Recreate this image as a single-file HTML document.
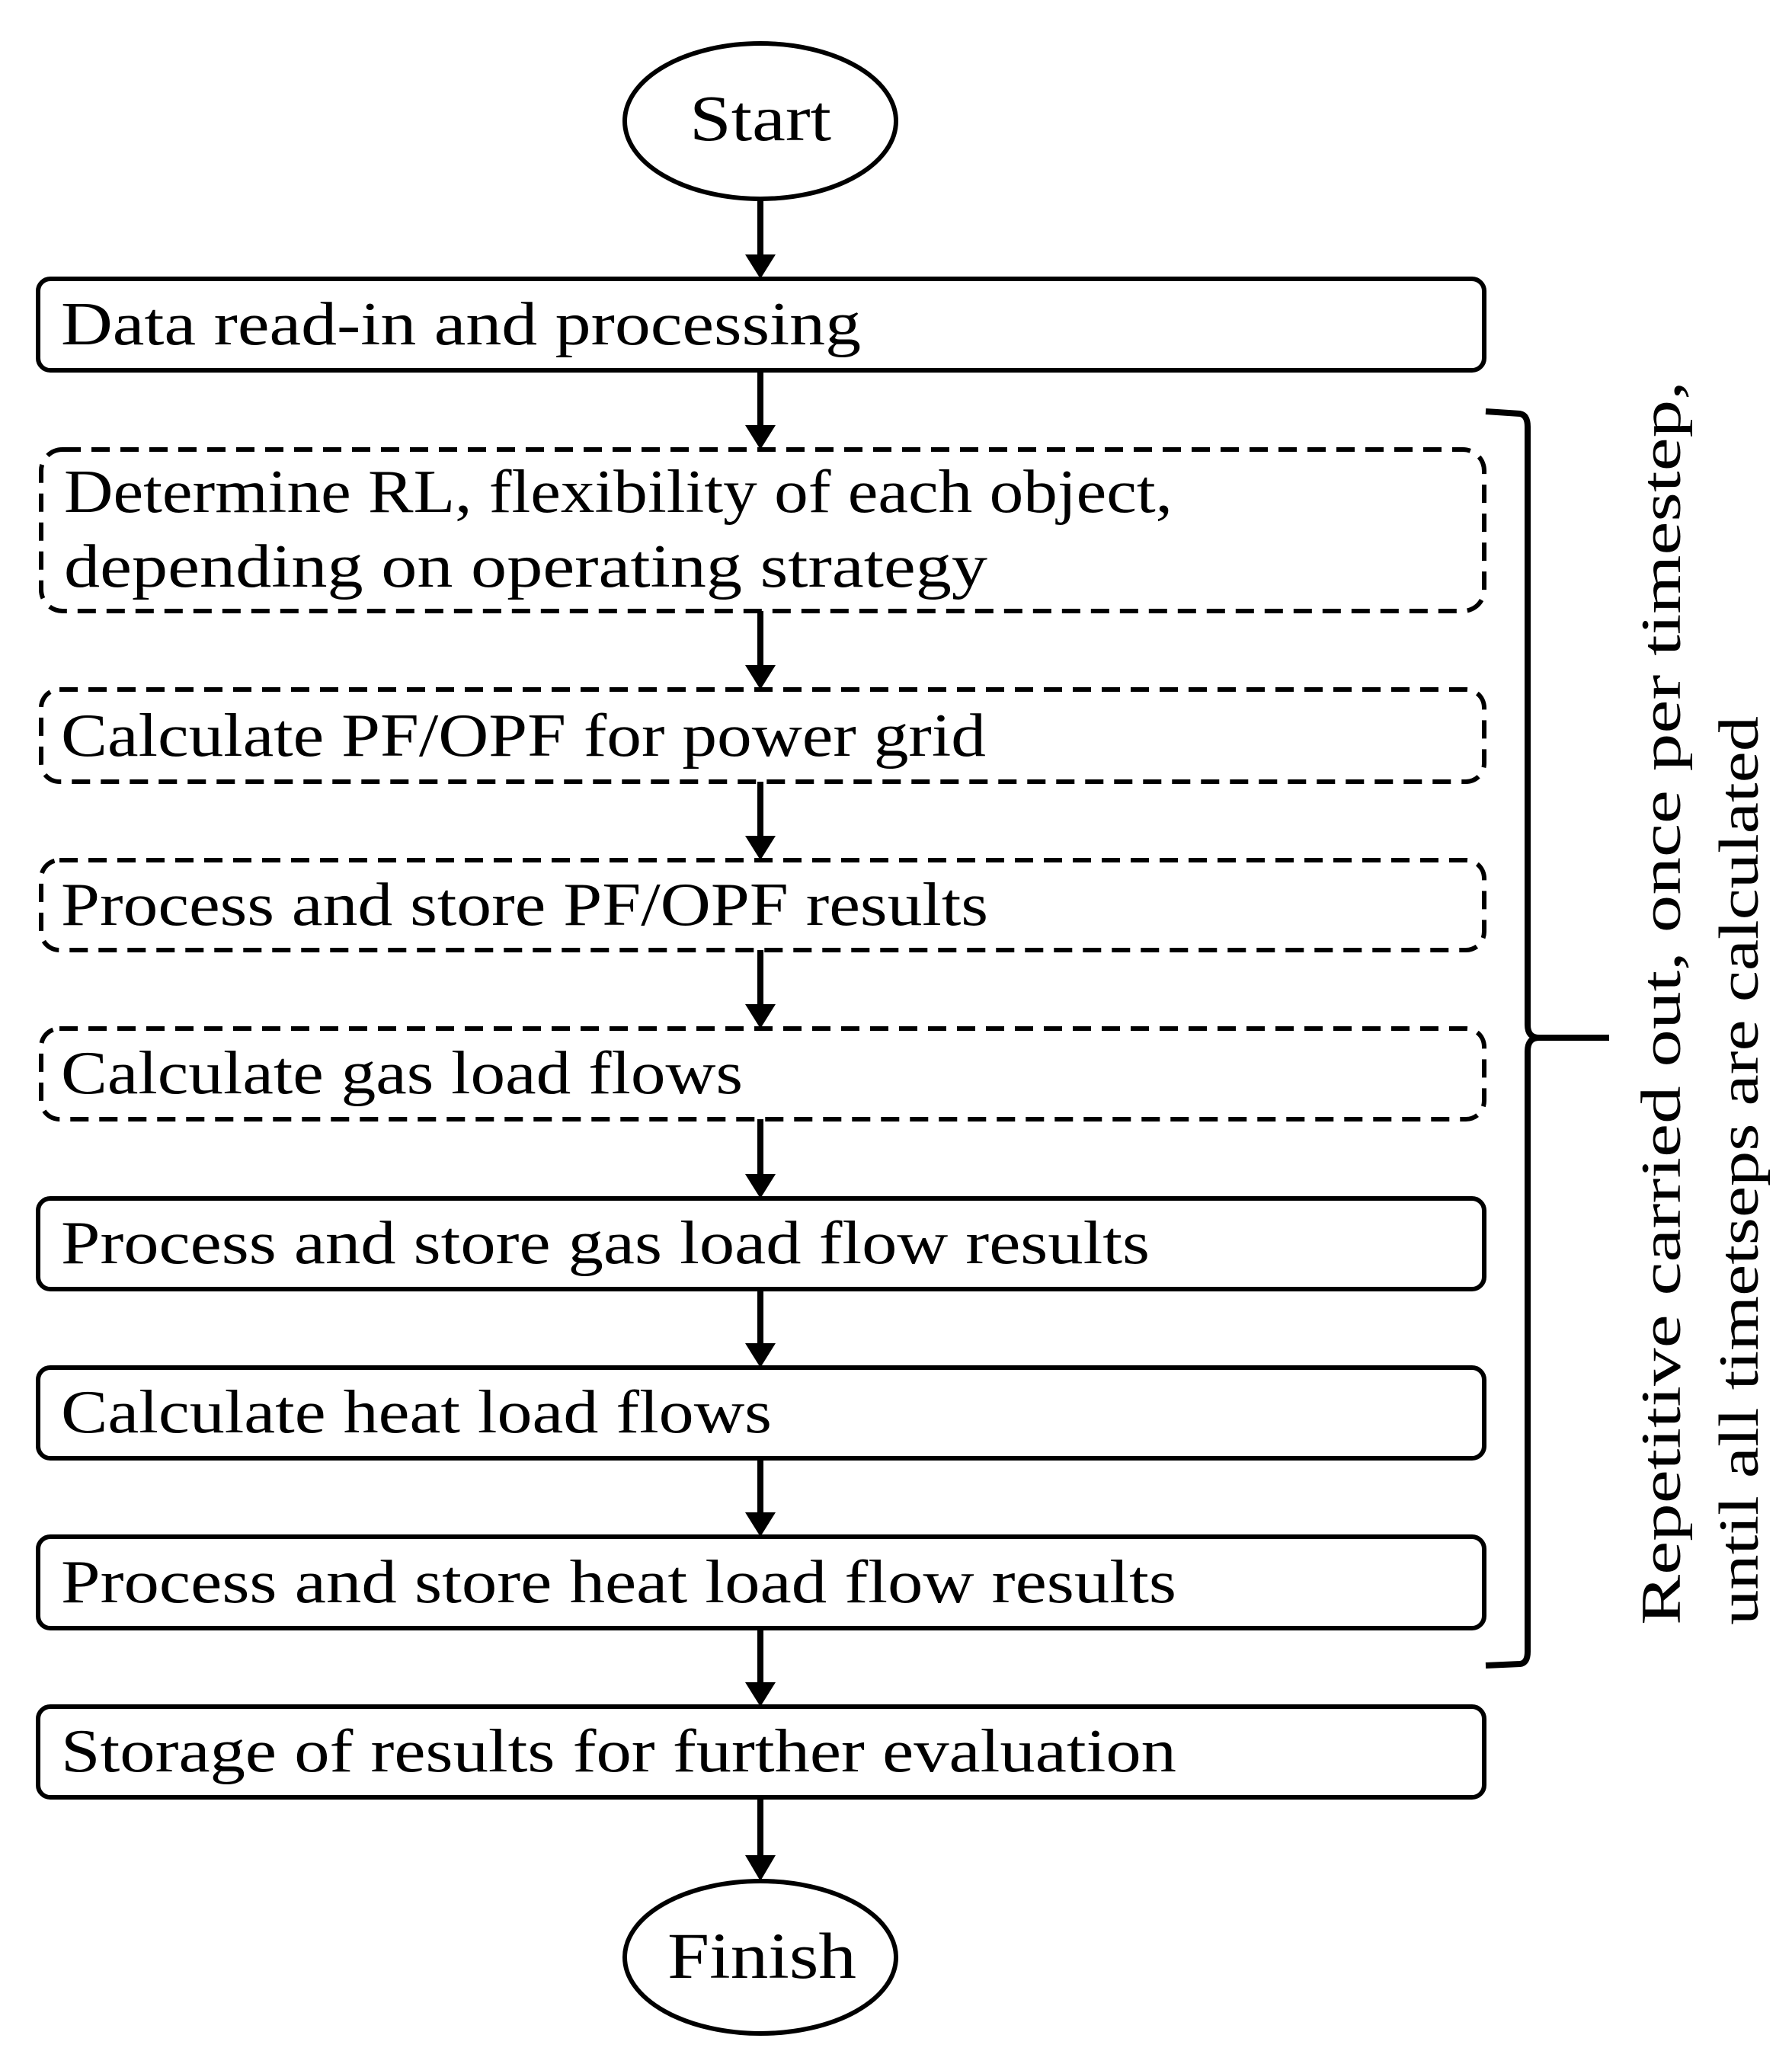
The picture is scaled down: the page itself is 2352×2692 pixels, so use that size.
<!DOCTYPE html>
<html><head><meta charset="utf-8"><style>
html,body{margin:0;padding:0;background:#fff;}
svg{display:block}
text{font-family:"Liberation Serif",serif;fill:#000}
</style></head><body>
<svg width="2352" height="2692" viewBox="0 0 2352 2692" xmlns="http://www.w3.org/2000/svg">
<g fill="none" stroke="#000" stroke-width="6">
<ellipse cx="998" cy="159" rx="178" ry="102"/>
<ellipse cx="998" cy="2569" rx="178" ry="100"/>
<rect x="50" y="366" width="1898" height="120" rx="16"/>
<rect x="50" y="2017" width="1898" height="120" rx="16"/>
<rect x="50" y="2240" width="1898" height="119" rx="16"/>
<rect x="50" y="1573" width="1898" height="119" rx="16"/>
<rect x="50" y="1795" width="1898" height="119" rx="16"/>
<g stroke-dasharray="24,14">
<rect x="54" y="590" width="1894" height="212" rx="28"/>
<rect x="54" y="905" width="1894" height="121" rx="24"/>
<rect x="54" y="1129" width="1894" height="118" rx="24"/>
<rect x="54" y="1350" width="1894" height="119" rx="24"/>
</g>
<g stroke-width="8">
<line x1="998" y1="261" x2="998" y2="336"/>
<line x1="998" y1="486" x2="998" y2="560"/>
<line x1="998" y1="802" x2="998" y2="875"/>
<line x1="998" y1="1026" x2="998" y2="1099"/>
<line x1="998" y1="1247" x2="998" y2="1320"/>
<line x1="998" y1="1469" x2="998" y2="1543"/>
<line x1="998" y1="1692" x2="998" y2="1765"/>
<line x1="998" y1="1914" x2="998" y2="1987"/>
<line x1="998" y1="2137" x2="998" y2="2210"/>
<line x1="998" y1="2359" x2="998" y2="2437"/>
</g>
<path d="M1950,540 L1995,543 Q2005,545 2005,560 L2005,1345 Q2005,1362 2020,1362 L2112,1362 M2020,1362 Q2005,1362 2005,1380 L2005,2168 Q2005,2183 1995,2184 L1950,2186" stroke-width="8"/>
</g>
<g fill="#000">
<polygon points="978,334 1018,334 998,366"/>
<polygon points="978,558 1018,558 998,590"/>
<polygon points="978,873 1018,873 998,905"/>
<polygon points="978,1097 1018,1097 998,1129"/>
<polygon points="978,1318 1018,1318 998,1350"/>
<polygon points="978,1541 1018,1541 998,1573"/>
<polygon points="978,1763 1018,1763 998,1795"/>
<polygon points="978,1985 1018,1985 998,2017"/>
<polygon points="978,2208 1018,2208 998,2240"/>
<polygon points="978,2435 1018,2435 998,2469"/>
</g>
<g font-size="80" lengthAdjust="spacingAndGlyphs">
<text x="905" y="184" font-size="86" textLength="186" lengthAdjust="spacingAndGlyphs">Start</text>
<text x="876" y="2596" font-size="86" textLength="248" lengthAdjust="spacingAndGlyphs">Finish</text>
<text x="80" y="452" textLength="1050" lengthAdjust="spacingAndGlyphs">Data read-in and processing</text>
<text x="84" y="672" textLength="1455" lengthAdjust="spacingAndGlyphs">Determine RL, flexibility of each object,</text>
<text x="84" y="770" textLength="1212" lengthAdjust="spacingAndGlyphs">depending on operating strategy</text>
<text x="80" y="992" textLength="1214" lengthAdjust="spacingAndGlyphs">Calculate PF/OPF for power grid</text>
<text x="80" y="1214" textLength="1217" lengthAdjust="spacingAndGlyphs">Process and store PF/OPF results</text>
<text x="80" y="1435" textLength="895" lengthAdjust="spacingAndGlyphs">Calculate gas load flows</text>
<text x="80" y="1658" textLength="1429" lengthAdjust="spacingAndGlyphs">Process and store gas load flow results</text>
<text x="80" y="1880" textLength="933" lengthAdjust="spacingAndGlyphs">Calculate heat load flows</text>
<text x="80" y="2103" textLength="1464" lengthAdjust="spacingAndGlyphs">Process and store heat load flow results</text>
<text x="80" y="2325" textLength="1464" lengthAdjust="spacingAndGlyphs">Storage of results for further evaluation</text>
</g>
<g font-size="74">
<text transform="translate(2205,2133) rotate(-90)" textLength="1633" lengthAdjust="spacingAndGlyphs">Repetitive carried out, once per timestep,</text>
<text transform="translate(2307,2133) rotate(-90)" textLength="1193" lengthAdjust="spacingAndGlyphs">until all timetseps are calculated</text>
</g>
</svg>
</body></html>
